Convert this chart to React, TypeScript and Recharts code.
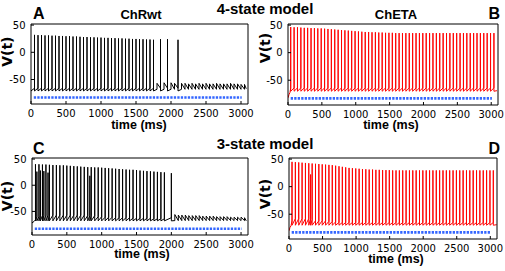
import React from 'react';
import { LineChart, Line, XAxis, YAxis } from 'recharts';

// ---------- shared axis values ----------
const timeTicks = [0, 500, 1000, 1500, 2000, 2500, 3000];
const voltTicks = [-50, 0, 50];
const xDomain: [number, number] = [0, 3100];
const yDomain: [number, number] = [-95, 52];

// light pulse train (blue)
const pulseT = [40, 3010];
const pulseV = [-83, -83];

// ---------- Panel A : 4-state ChRwt ----------
const aStartT = [0];
const aStartV = [-71];
const aSpikeT = [50, 100, 150, 200, 250, 300, 350, 400, 450, 500, 550, 600, 650, 700, 750, 800, 850, 900, 950, 1000, 1050, 1100, 1150, 1200, 1250, 1300, 1350, 1400, 1450, 1500, 1550, 1600, 1650, 1700, 1750, 1850, 1950, 2100];
const aSpikeV = [32, 31.5, 31.5, 31, 31, 30.5, 30.5, 30, 30, 29.5, 29.5, 29, 29, 28.5, 28, 28, 27.5, 27.5, 27, 27, 26.5, 26.5, 26, 26, 25.5, 25.5, 25, 25, 24.5, 24.5, 24, 24, 23.5, 23.5, 23, 24, 24, 23];
const aRest = -66;
const aTrough = -71;
const aBumpT = [1800, 1900, 2000, 2050, 2150, 2200, 2250, 2300, 2350, 2400, 2450, 2500, 2550, 2600, 2650, 2700, 2750, 2800, 2850, 2900, 2950, 3000, 3050];
const aBumpV = [-57, -56, -56, -57, -57, -57, -58, -57, -58, -57, -58, -57, -58, -58, -57, -58, -58, -58, -57, -58, -58, -59, -59];
const aBumpRest = -68;
const aEndT = [3075];
const aEndV = [-67];

// ---------- Panel B : 4-state ChETA ----------
const bStartT = [0, 15, 30];
const bStartV = [-82, -76, -72];
const bSpikeT = [40, 90, 140, 190, 240, 290, 340, 390, 440, 490, 540, 590, 640, 690, 740, 790, 840, 890, 940, 990, 1040, 1090, 1140, 1190, 1240, 1290, 1340, 1390, 1440, 1490, 1540, 1590, 1640, 1690, 1740, 1790, 1840, 1890, 1940, 1990, 2040, 2090, 2140, 2190, 2240, 2290, 2340, 2390, 2440, 2490, 2540, 2590, 2640, 2690, 2740, 2790, 2840, 2890, 2940, 2990, 3040];
const bSpikeV = [46.5, 46, 46, 45.5, 45, 45, 44.5, 44.5, 44, 44, 43.5, 43, 42.5, 42, 41.5, 41, 40.5, 40, 39.5, 39, 38.5, 38, 37.5, 37.5, 37, 37, 36.5, 36.5, 36, 36, 36, 35.5, 35.5, 35.5, 35.5, 35.5, 35.5, 35.5, 35.5, 35.5, 35.5, 35.5, 35.5, 35.5, 35.5, 35.5, 35.5, 35.5, 35.5, 35.5, 35.5, 35.5, 35.5, 35.5, 35.5, 35.5, 35.5, 35.5, 35.5, 35.5, 35.5];
const bRest = -64;
const bTrough = -70;
const bEndT = [3085];
const bEndV = [-69];

// ---------- Panel C : 3-state ChRwt ----------
const cStartT = [0, 30];
const cStartV = [-72, -69];
const cSpikeT = [50, 70, 100, 120, 150, 170, 200, 230, 250, 300, 350, 400, 450, 500, 550, 600, 650, 700, 750, 800, 830, 850, 900, 950, 1000, 1050, 1100, 1150, 1200, 1250, 1300, 1350, 1400, 1450, 1500, 1550, 1600, 1650, 1700, 1750, 1800, 1850, 1900, 2000];
const cSpikeV = [40, 26, 40, 28, 39.5, 27, 39.5, 24, 39, 38.5, 38.5, 38, 38, 37.5, 37, 36.5, 36, 35.5, 35, 34.5, 18, 34.5, 34, 34, 33.5, 33, 32.5, 32, 31.5, 31, 30.5, 30, 29.5, 29.5, 29, 28, 27.5, 27, 26.5, 26, 25.5, 25, 24.5, 23];
const cRest = [-66, -60, -60, -58, -58, -58, -57, -57, -57, -57, -57, -57, -57, -57, -57, -57, -57, -57, -57, -58, -58, -58, -58, -60, -60, -61, -61, -61, -62, -62, -62, -62, -62, -63, -63, -63, -63, -63, -63, -64, -64, -64, -64, -62];
const cTrough = -68;
const cBumpT = [2050, 2100, 2150, 2200, 2250, 2300, 2350, 2400, 2450, 2500, 2550, 2600, 2650, 2700, 2750, 2800, 2850, 2900, 2950, 3000, 3050];
const cBumpV = [-56, -57, -57, -57, -58, -58, -58, -58, -59, -59, -59, -59, -60, -60, -60, -60, -61, -61, -61, -61, -62];
const cBumpRest = -67.5;
const cEndT = [3075];
const cEndV = [-68];

// ---------- Panel D : 3-state ChETA ----------
const dStartT = [0, 15, 30];
const dStartV = [-80, -74, -71];
const dSpikeT = [45, 95, 145, 195, 245, 295, 322, 345, 395, 445, 495, 545, 595, 645, 695, 745, 795, 845, 895, 945, 995, 1045, 1095, 1145, 1195, 1245, 1295, 1345, 1395, 1445, 1495, 1545, 1595, 1645, 1695, 1745, 1795, 1845, 1895, 1945, 1995, 2045, 2095, 2145, 2195, 2245, 2295, 2345, 2395, 2445, 2495, 2545, 2595, 2645, 2695, 2745, 2795, 2845, 2895, 2945, 2995, 3045];
const dSpikeV = [45, 44.5, 44, 43.5, 43, 42.5, 22, 42, 41.5, 41, 40.5, 40, 39.5, 39, 38, 37, 36, 35, 34, 33.5, 33, 32.5, 32, 31.5, 31, 31, 30.5, 30.5, 30, 30, 30, 29.5, 29.5, 29.5, 29.5, 29.5, 29.5, 29.5, 29.5, 29.5, 29.5, 29.5, 29.5, 29.5, 29.5, 29.5, 29.5, 29.5, 29.5, 29.5, 29.5, 29.5, 29.5, 29.5, 29.5, 29.5, 29.5, 29.5, 29.5, 29.5, 29.5, 29.5];
const dRest = [-62, -58, -58, -58, -58, -58, -58, -60, -62, -62, -62, -62, -63, -63, -64, -65, -65, -65, -65, -65, -65, -65, -65, -65, -65, -65, -65, -65, -65, -65, -65, -65, -65, -65, -65, -65, -65, -65, -65, -65, -65, -65, -65, -65, -65, -65, -65, -65, -65, -65, -65, -65, -65, -65, -65, -65, -65, -65, -65, -65, -65, -65];
const dTrough = -70;
const dEndT = [3095];
const dEndV = [-69];

type Pt = { t: number; v: number };

function buildTrace(
  startT: number[], startV: number[],
  spikeT: number[], spikeV: number[], rest: number | number[], trough: number,
  bumpT: number[], bumpV: number[], bumpRest: number,
  endT: number[], endV: number[]
): Pt[] {
  const ev: { t: number; lo: number; hi: number; after: number | null }[] = [];
  spikeT.forEach((t, i) => ev.push({ t, lo: Array.isArray(rest) ? rest[i] : rest, hi: spikeV[i], after: trough }));
  bumpT.forEach((t, i) => ev.push({ t, lo: bumpRest, hi: bumpV[i], after: null }));
  ev.sort((a, b) => a.t - b.t);
  const pts: Pt[] = [];
  startT.forEach((t, i) => pts.push({ t, v: startV[i] }));
  ev.forEach((e) => {
    pts.push({ t: e.t, v: e.lo });
    pts.push({ t: e.t, v: e.hi });
    if (e.after !== null) pts.push({ t: e.t, v: e.after });
  });
  endT.forEach((t, i) => pts.push({ t, v: endV[i] }));
  return pts;
}

const traceA = buildTrace(aStartT, aStartV, aSpikeT, aSpikeV, aRest, aTrough, aBumpT, aBumpV, aBumpRest, aEndT, aEndV);
const traceB = buildTrace(bStartT, bStartV, bSpikeT, bSpikeV, bRest, bTrough, [], [], 0, bEndT, bEndV);
const traceC = buildTrace(cStartT, cStartV, cSpikeT, cSpikeV, cRest, cTrough, cBumpT, cBumpV, cBumpRest, cEndT, cEndV);
const traceD = buildTrace(dStartT, dStartV, dSpikeT, dSpikeV, dRest, dTrough, [], [], 0, dEndT, dEndV);
const pulse: Pt[] = pulseT.map((t, i) => ({ t, v: pulseV[i] }));

const tickFont = { fill: '#000', fontSize: 10, fontFamily: 'DejaVu Sans, sans-serif' };

function Panel(props: { trace: Pt[]; color: string; x: number; y: number; w: number; h: number }) {
  const { trace, color, x, y, w, h } = props;
  const LW = 31, RW = 2, TH = 2, BH = 24;
  const MT = 8, MR = 16;
  return (
    <div style={{ position: 'absolute', left: x - LW, top: y - TH - MT }}>
      <LineChart width={w + LW + RW + MR} height={h + TH + BH + MT} margin={{ top: MT, right: MR, bottom: 0, left: 0 }}>
        <XAxis xAxisId="b" dataKey="t" type="number" domain={xDomain} ticks={timeTicks} allowDataOverflow interval={0}
          orientation="bottom" height={BH} tickSize={-3} tickMargin={9} stroke="#000" tick={tickFont} />
        <XAxis xAxisId="t" dataKey="t" type="number" domain={xDomain} ticks={timeTicks} allowDataOverflow interval={0}
          orientation="top" height={TH} tickSize={-3} stroke="#000" tick={false} />
        <YAxis yAxisId="l" type="number" domain={yDomain} ticks={voltTicks} allowDataOverflow interval={0}
          width={LW} tickSize={-3} tickMargin={8.5} stroke="#000" tick={tickFont} />
        <YAxis yAxisId="r" orientation="right" type="number" domain={yDomain} ticks={voltTicks} allowDataOverflow interval={0}
          width={RW} tickSize={-3} stroke="#000" tick={false} />
        <Line xAxisId="b" yAxisId="l" data={pulse} dataKey="v" type="linear" stroke="#3366ff" strokeWidth={2.6}
          strokeDasharray="2.3 1.2" dot={false} isAnimationActive={false} />
        <Line xAxisId="b" yAxisId="l" data={trace} dataKey="v" type="linear" stroke={color} strokeWidth={1}
          dot={false} isAnimationActive={false} />
      </LineChart>
    </div>
  );
}

const bold = { fontFamily: 'Liberation Sans, Arial, sans-serif', fontWeight: 700 as const, fill: '#000' };
const vFont = { fontFamily: 'DejaVu Sans, sans-serif', fontWeight: 700 as const, fill: '#000', fontSize: 14 };

export default function App() {
  return (
    <div style={{ position: 'absolute', left: 0, top: 0, width: 505, height: 271, background: '#fff', overflow: 'hidden' }}>
      <Panel trace={traceA} color="#000000" x={31} y={24} w={217} h={80} />
      <Panel trace={traceB} color="#ff0000" x={288} y={24} w={210} h={81} />
      <Panel trace={traceC} color="#000000" x={32} y={158} w={216} h={77} />
      <Panel trace={traceD} color="#ff0000" x={289} y={158} w={208} h={81} />
      <svg width={505} height={271} style={{ position: 'absolute', left: 0, top: 0, pointerEvents: 'none' }}>
        <text x={265} y={13.5} textAnchor="middle" fontSize={15} {...bold}>4-state model</text>
        <text x={265} y={148.5} textAnchor="middle" fontSize={15} {...bold}>3-state model</text>
        <text x={141} y={19.3} textAnchor="middle" fontSize={13} {...bold}>ChRwt</text>
        <text x={396} y={19.3} textAnchor="middle" fontSize={13} {...bold}>ChETA</text>
        <text x={33} y={18.5} fontSize={16} {...bold}>A</text>
        <text x={500} y={19.3} textAnchor="end" fontSize={16} {...bold}>B</text>
        <text x={33} y={154.3} fontSize={16} {...bold}>C</text>
        <text x={500} y={154.3} textAnchor="end" fontSize={16} {...bold}>D</text>
        <text x={139} y={128.5} textAnchor="middle" fontSize={12.5} {...bold}>time (ms)</text>
        <text x={391} y={128.5} textAnchor="middle" fontSize={12.5} {...bold}>time (ms)</text>
        <text x={142} y={258} textAnchor="middle" fontSize={12.5} {...bold}>time (ms)</text>
        <text x={396} y={262.5} textAnchor="middle" fontSize={12.5} {...bold}>time (ms)</text>
        <text transform="translate(11.5,51.7) rotate(-90)" textAnchor="middle" {...vFont}>V(t)</text>
        <text transform="translate(269.5,48) rotate(-90)" textAnchor="middle" {...vFont}>V(t)</text>
        <text transform="translate(11.5,196) rotate(-90)" textAnchor="middle" {...vFont}>V(t)</text>
        <text transform="translate(269.5,194) rotate(-90)" textAnchor="middle" {...vFont}>V(t)</text>
      </svg>
    </div>
  );
}
